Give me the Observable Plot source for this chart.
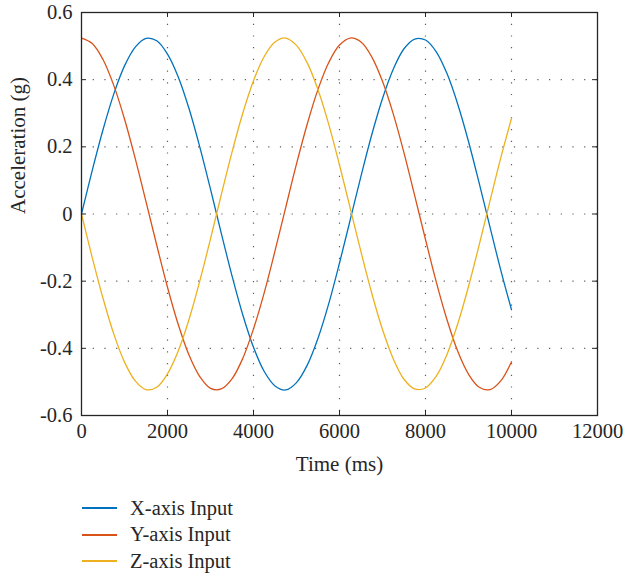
<!DOCTYPE html>
<html>
<head>
<meta charset="utf-8">
<script src="https://cdn.jsdelivr.net/npm/d3@7"></script>
<script src="https://cdn.jsdelivr.net/npm/@observablehq/plot@0.6"></script>
<style>
  html, body { margin: 0; padding: 0; background: #fff; }
  #wrap { position: relative; width: 623px; height: 576px; font-family: "Liberation Serif", serif; }
  #legend { position: absolute; left: 82px; top: 495px; font-size: 20.5px; color: #262626; }
  .row { display: flex; align-items: center; height: 26.5px; }
  .sw { display: inline-block; width: 35px; height: 2px; margin-right: 13px; }
</style>
</head>
<body>
<div id="wrap"></div>
<script>
const time = [0,250,500,750,1000,1250,1500,1750,2000,2250,2500,2750,3000,3250,3500,3750,4000,4250,4500,4750,5000,5250,5500,5750,6000,6250,6500,6750,7000,7250,7500,7750,8000,8250,8500,8750,9000,9250,9500,9750,10000];
const xInput = [0,0.130,0.251,0.357,0.441,0.497,0.523,0.516,0.476,0.408,0.314,0.200,0.074,-0.057,-0.184,-0.300,-0.397,-0.469,-0.512,-0.524,-0.502,-0.450,-0.370,-0.267,-0.146,-0.017,0.113,0.236,0.344,0.431,0.492,0.521,0.518,0.483,0.418,0.327,0.216,0.091,-0.039,-0.167,-0.285];
const yInput = [0.524,0.508,0.460,0.383,0.283,0.165,0.037,-0.093,-0.218,-0.329,-0.420,-0.484,-0.519,-0.521,-0.491,-0.430,-0.342,-0.234,-0.110,0.020,0.149,0.268,0.371,0.451,0.503,0.524,0.512,0.468,0.395,0.298,0.182,0.054,-0.076,-0.202,-0.315,-0.409,-0.477,-0.516,-0.523,-0.497,-0.440];
const zInput = [0,-0.130,-0.251,-0.357,-0.441,-0.497,-0.523,-0.516,-0.476,-0.408,-0.314,-0.200,-0.074,0.057,0.184,0.300,0.397,0.469,0.512,0.524,0.502,0.450,0.370,0.267,0.146,0.017,-0.113,-0.236,-0.344,-0.431,-0.492,-0.521,-0.518,-0.483,-0.418,-0.327,-0.216,-0.091,0.039,0.167,0.285];
const seriesNames = ["X-axis Input","Y-axis Input","Z-axis Input"];
const seriesColors = ["#0072BD","#D95319","#EDB120"];
const xTicks = [0,2000,4000,6000,8000,10000,12000];
const yTicks = [-0.6,-0.4,-0.2,0,0.2,0.4,0.6];
const yTickLabels = ["-0.6","-0.4","-0.2","0","0.2","0.4","0.6"];

const rows = [];
[xInput, yInput, zInput].forEach((vals, i) => {
  vals.forEach((v, j) => rows.push({t: time[j], a: v, s: seriesNames[i]}));
});

const W = 623, H = 480, mt = 12, mb = 65, ml = 81, mr = 26;
const fh = H - mt - mb, fw = W - ml - mr, tk = 5;
const gridStyle = {stroke: "#333", strokeOpacity: 0.8, strokeWidth: 1.2, strokeDasharray: "1.2,10.5"};

const chart = Plot.plot({
  width: W, height: H,
  marginTop: mt, marginBottom: mb, marginLeft: ml, marginRight: mr,
  style: {fontFamily: "Liberation Serif, serif", fontSize: "20px", color: "#262626", background: "#fff"},
  x: {domain: [0, 12000]},
  y: {domain: [-0.6, 0.6]},
  color: {domain: seriesNames, range: seriesColors},
  marks: [
    Plot.ruleX(xTicks.slice(1, -1), {x: d => d, ...gridStyle}),
    Plot.ruleY(yTicks.slice(1, -1), {y: d => d, ...gridStyle}),
    Plot.line(rows, {x: "t", y: "a", z: "s", stroke: "s", strokeWidth: 1.3, curve: "catmull-rom"}),
    Plot.frame({stroke: "#262626", strokeWidth: 1.3}),
    Plot.ruleX(xTicks, {x: d => d, insetTop: fh - tk, stroke: "#262626"}),
    Plot.ruleX(xTicks, {x: d => d, insetBottom: fh - tk, stroke: "#262626"}),
    Plot.ruleY(yTicks, {y: d => d, insetRight: fw - tk, stroke: "#262626"}),
    Plot.ruleY(yTicks, {y: d => d, insetLeft: fw - tk, stroke: "#262626"}),
    Plot.axisX(xTicks, {tickSize: 0, tickPadding: 8, label: null, tickFormat: d => String(d), fontSize: 20.5}),
    Plot.axisY(yTicks, {tickSize: 0, tickPadding: 9, label: null, tickFormat: (d, i) => yTickLabels[i], fontSize: 20.5}),
    Plot.text(["Time (ms)"], {frameAnchor: "bottom", dy: 49, lineAnchor: "middle", fontSize: 21, fill: "#262626"}),
    Plot.text(["Acceleration (g)"], {frameAnchor: "left", dx: -63, rotate: -90, lineAnchor: "middle", fontSize: 21, fill: "#262626"})
  ]
});

const wrap = document.getElementById("wrap");
wrap.appendChild(chart);
const legend = document.createElement("div");
legend.id = "legend";
seriesNames.forEach((n, i) => {
  const r = document.createElement("div");
  r.className = "row";
  const sw = document.createElement("span");
  sw.className = "sw";
  sw.style.background = seriesColors[i];
  const tx = document.createElement("span");
  tx.textContent = n;
  r.appendChild(sw); r.appendChild(tx);
  legend.appendChild(r);
});
wrap.appendChild(legend);
</script>
</body>
</html>
